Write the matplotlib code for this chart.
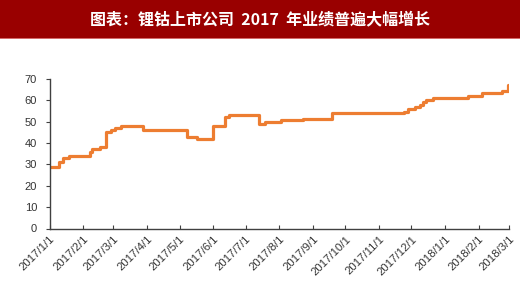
import matplotlib
matplotlib.use("Agg")
import matplotlib.pyplot as plt
import pandas as pd

plt.rcParams['font.family'] = ['Liberation Sans', 'Noto Sans CJK SC', 'DejaVu Sans']

# step points: date the level starts, level value
dates = ["2017-01-01", "2017-01-10", "2017-01-13", "2017-01-19", "2017-02-07",
         "2017-02-09", "2017-02-17", "2017-02-22", "2017-02-27", "2017-03-02",
         "2017-03-08", "2017-03-28", "2017-05-08", "2017-05-17", "2017-06-01",
         "2017-06-12", "2017-06-16", "2017-07-13", "2017-07-19", "2017-08-03",
         "2017-08-23", "2017-09-19", "2017-11-24", "2017-11-28", "2017-12-04",
         "2017-12-09", "2017-12-12", "2017-12-14", "2017-12-21", "2018-01-22",
         "2018-02-04", "2018-02-23", "2018-02-28", "2018-03-01"]
values = [29, 31, 33, 34, 36,
          37, 38, 45, 46, 47,
          48, 46, 43, 42, 48,
          52, 53, 49, 50, 50.6,
          51.3, 54, 54.5, 56, 57,
          58, 59, 60, 61, 62.2,
          63.6, 64.6, 67, 67]

tick_dates = ["2017-01-01", "2017-02-01", "2017-03-01", "2017-04-01", "2017-05-01",
              "2017-06-01", "2017-07-01", "2017-08-01", "2017-09-01", "2017-10-01",
              "2017-11-01", "2017-12-01", "2018-01-01", "2018-02-01", "2018-03-01"]
tick_labels = ["2017/1/1", "2017/2/1", "2017/3/1", "2017/4/1", "2017/5/1",
               "2017/6/1", "2017/7/1", "2017/8/1", "2017/9/1", "2017/10/1",
               "2017/11/1", "2017/12/1", "2018/1/1", "2018/2/1", "2018/3/1"]

title = "图表：锂钴上市公司  2017  年业绩普遍大幅增长"

fig = plt.figure(figsize=(5.2, 2.84), dpi=100)

# red title band
band = fig.add_axes([0, 1 - 39 / 284, 1, 39 / 284])
band.set_facecolor("#990000")
band.set_xticks([])
band.set_yticks([])
for s in band.spines.values():
    s.set_visible(False)
band.axhline(0, color="#e08080", lw=1.2)
band.text(0.5, 0.5, title, color="white", ha="center", va="center",
          fontsize=11.5, fontweight="bold",
          family=['Noto Sans CJK SC', 'DejaVu Sans'])

ax = fig.add_axes([49.5 / 520, 1 - 228.5 / 284, 459.5 / 520, 149.5 / 284])
x = pd.to_datetime(dates)
ax.plot(x, values, drawstyle="steps-post", color="#ED7D31", lw=2.3)

ax.set_ylim(0, 70)
ax.set_yticks(range(0, 71, 10))
ax.set_xlim(pd.Timestamp("2017-01-01"), pd.Timestamp("2018-03-01"))
ax.set_xticks(pd.to_datetime(tick_dates))
ax.set_xticklabels(tick_labels, rotation=45, ha="right", rotation_mode="anchor")

for s in ["top", "right"]:
    ax.spines[s].set_visible(False)
for s in ["left", "bottom"]:
    ax.spines[s].set_color("#404040")
    ax.spines[s].set_linewidth(1)
ax.tick_params(axis="y", direction="out", length=3, color="#404040",
               labelsize=8, labelcolor="#333333", pad=6)
ax.tick_params(axis="x", direction="in", length=3, color="#404040",
               labelsize=8.2, labelcolor="#333333", pad=4)

fig.savefig("out.png", dpi=100)
